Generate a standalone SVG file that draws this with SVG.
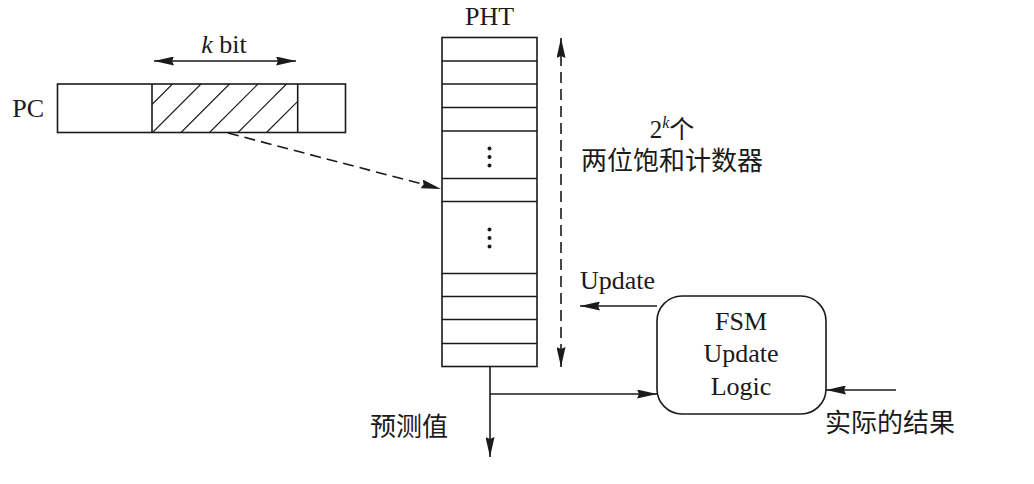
<svg xmlns="http://www.w3.org/2000/svg" width="1034" height="484" viewBox="0 0 1034 484">
<style>
.box{fill:none;stroke:#1a1a1a;stroke-width:1.6}
.ln{fill:none;stroke:#1a1a1a;stroke-width:1.6}
.hatch{fill:none;stroke:#1a1a1a;stroke-width:1.1}
.dash{fill:none;stroke:#1a1a1a;stroke-width:1.6;stroke-dasharray:11 6}
.t{font-family:"Liberation Serif","Times New Roman",serif;font-size:26px;fill:#1a1a1a}
.c{font-family:"Liberation Serif","Noto Sans CJK SC",serif;font-size:26px;fill:#1a1a1a}
.dot{fill:#1a1a1a}
</style>
<defs>
<marker id="arr" markerUnits="userSpaceOnUse" markerWidth="20" markerHeight="9" refX="20" refY="4.5" orient="auto-start-reverse" viewBox="0 0 20 9">
<path d="M0,0 L20,4.5 L0,9 L2,4.5 z" fill="#1a1a1a" stroke="none"/>
</marker>
</defs>
<rect width="1034" height="484" fill="#ffffff"/>

<g id="pc">
<rect class="box" x="57.5" y="84" width="288" height="48.5"/>
<line class="ln" x1="152" y1="84" x2="152" y2="132.5"/>
<line class="ln" x1="297.7" y1="84" x2="297.7" y2="132.5"/>
<g class="hatch">
<line x1="152" y1="104.5" x2="172.5" y2="84"/>
<line x1="152.5" y1="132.5" x2="201" y2="84"/>
<line x1="181" y1="132.5" x2="229.5" y2="84"/>
<line x1="209.5" y1="132.5" x2="258" y2="84"/>
<line x1="238" y1="132.5" x2="286.5" y2="84"/>
<line x1="266.5" y1="132.5" x2="297.7" y2="101.3"/>
</g>
<text class="t" x="44" y="117" text-anchor="end">PC</text>
<text class="t" x="224" y="53" text-anchor="middle"><tspan font-style="italic">k</tspan> bit</text>
</g>

<g id="pht">
<text class="t" x="489.5" y="25" text-anchor="middle">PHT</text>
<rect class="box" x="442" y="37.5" width="95" height="329"/>
<g class="ln">
<line x1="442" y1="61" x2="537" y2="61"/>
<line x1="442" y1="84" x2="537" y2="84"/>
<line x1="442" y1="107.5" x2="537" y2="107.5"/>
<line x1="442" y1="131" x2="537" y2="131"/>
<line x1="442" y1="178.5" x2="537" y2="178.5"/>
<line x1="442" y1="201.5" x2="537" y2="201.5"/>
<line x1="442" y1="273.5" x2="537" y2="273.5"/>
<line x1="442" y1="296.5" x2="537" y2="296.5"/>
<line x1="442" y1="319.5" x2="537" y2="319.5"/>
<line x1="442" y1="343.5" x2="537" y2="343.5"/>
</g>
<circle class="dot" cx="489.5" cy="148.5" r="2"/>
<circle class="dot" cx="489.5" cy="157" r="2"/>
<circle class="dot" cx="489.5" cy="165.5" r="2"/>
<circle class="dot" cx="489.5" cy="229.5" r="2"/>
<circle class="dot" cx="489.5" cy="238" r="2"/>
<circle class="dot" cx="489.5" cy="246.5" r="2"/>
</g>

<g id="count-label">
<text class="c" x="672" y="138" text-anchor="middle"><tspan font-family="Liberation Serif, serif" font-size="25">2</tspan><tspan font-family="Liberation Serif, serif" font-size="16" font-style="italic" dy="-10">k</tspan><tspan font-size="25" dy="10">个</tspan></text>
<text class="c" x="672" y="169.5" text-anchor="middle">两位饱和计数器</text>
</g>

<g id="fsm">
<rect class="box" x="657" y="296" width="169" height="118" rx="25" ry="25"/>
<text class="t" x="741" y="330" text-anchor="middle">FSM</text>
<text class="t" x="741" y="362" text-anchor="middle">Update</text>
<text class="t" x="741" y="395" text-anchor="middle">Logic</text>
</g>

<g id="labels">
<text class="t" x="580" y="289">Update</text>
<text class="c" x="370" y="436">预测值</text>
<text class="c" x="825" y="432">实际的结果</text>
</g>

<g id="connectors">
<line class="ln" x1="154" y1="61" x2="296" y2="61" marker-start="url(#arr)" marker-end="url(#arr)"/>
<line class="dash" x1="228" y1="133" x2="441" y2="189" marker-end="url(#arr)"/>
<line class="dash" x1="561" y1="38" x2="561" y2="367" marker-start="url(#arr)" marker-end="url(#arr)"/>
<line class="ln" x1="657" y1="306" x2="580" y2="306" marker-end="url(#arr)"/>
<line class="ln" x1="490" y1="367" x2="490" y2="457" marker-end="url(#arr)"/>
<line class="ln" x1="490" y1="394" x2="657" y2="394" marker-end="url(#arr)"/>
<line class="ln" x1="896" y1="390" x2="826" y2="390" marker-end="url(#arr)"/>
</g>
</svg>
